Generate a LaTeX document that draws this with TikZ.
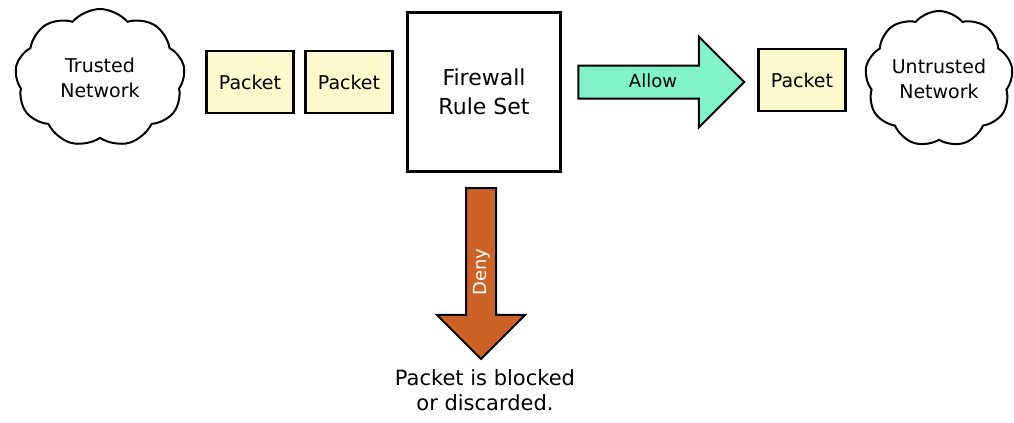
\documentclass[tikz,border=0pt]{standalone}
\usepackage{fontspec}
\setmainfont{DejaVu Sans}
\usetikzlibrary{shapes.symbols,shapes.arrows,positioning}
\definecolor{packetfill}{RGB}{252,250,204}
\definecolor{allowfill}{RGB}{128,244,200}
\definecolor{denyfill}{RGB}{204,98,40}
\begin{document}
\begin{tikzpicture}[x=0.5pt,y=-0.5pt,
    net/.style={cloud, draw, cloud puffs=9, cloud puff arc=100, aspect=1.5, inner sep=0pt, line width=1pt, align=center, font=\fontsize{9.5}{12.5}\selectfont},
    packet/.style={rectangle, draw, line width=1.4pt, fill=packetfill, minimum width=43.5pt, minimum height=31pt, inner sep=0pt, font=\fontsize{9.5}{12}\selectfont},
    bigarrow/.style={single arrow, draw, line width=1pt, single arrow head extend=14.5pt, text height=6.5pt, text depth=1.5pt, font=\fontsize{9}{10}\selectfont}]
    \useasboundingbox (0,0) rectangle (1014,423);

    \node(trusted)[net, minimum width=85pt, minimum height=69pt] at (100,78) {Trusted\\Network};
    \node(p1)[packet] at (250,82) {Packet};
    \node(p2)[packet] at (349,82) {Packet};
    \node(fw)[rectangle, draw, line width=1.2pt, minimum width=76.5pt, minimum height=79.5pt, align=center, font=\fontsize{11}{14.5}\selectfont] at (484,92) {Firewall\\Rule Set};

    \node(allow)[bigarrow, fill=allowfill, inner ysep=3.75pt, minimum height=83pt, minimum width=44.5pt] at (653,82) {Allow};
    \node(p3)[packet] at (802,80) {Packet};
    \node(untrusted)[net, minimum width=74pt, minimum height=68pt] at (939,79) {Untrusted\\Network};

    \node(deny)[bigarrow, fill=denyfill, rotate=-90, inner ysep=3pt, minimum height=85.5pt, minimum width=43pt] at (481,266) {};
    \node(denytext)[rotate=90, text=white, font=\fontsize{9}{10}\selectfont] at (482,272) {Deny};
    \node(blocked)[align=center, font=\fontsize{10.5}{12.5}\selectfont] at (485,390) {Packet is blocked\\or discarded.};

  \end{tikzpicture}
\end{document}
